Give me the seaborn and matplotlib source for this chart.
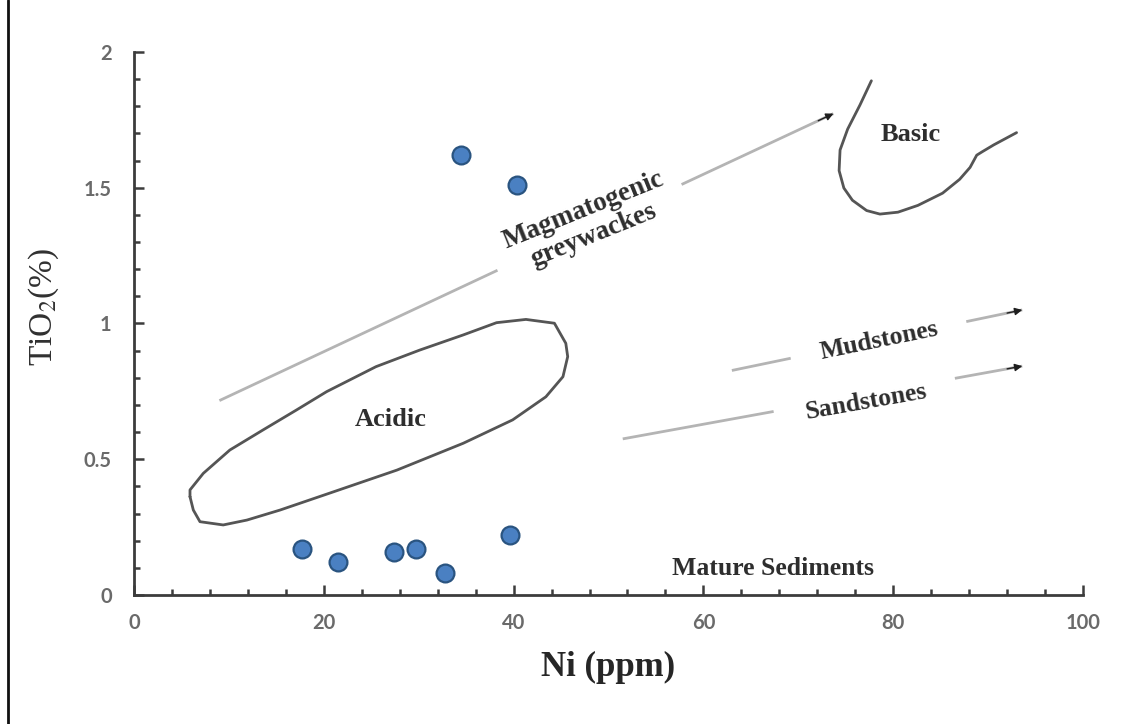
import matplotlib
matplotlib.use("Agg")
import matplotlib.pyplot as plt
from matplotlib.lines import Line2D
from matplotlib.ticker import MultipleLocator
import seaborn as sns
import pandas as pd

# Sample compositions
ni_ppm = [34.5, 40.4, 17.7, 21.5, 27.4, 29.7, 32.8, 39.6]
tio2_pct = [1.62, 1.51, 0.17, 0.12, 0.16, 0.17, 0.08, 0.22]

# Acidic field outline (closed)
acidic_ni = [5.9, 6.25, 6.95, 9.4, 11.9, 15.4, 20.6, 27.7, 34.7, 39.9, 43.4, 45.2,
             45.7, 45.5, 44.3, 41.3, 38.2, 34.7, 30.1, 25.5, 20.3, 17.1, 13.6,
             10.1, 7.3, 5.9, 5.9]
acidic_tio2 = [0.362, 0.313, 0.270, 0.258, 0.276, 0.313, 0.375, 0.460, 0.559, 0.645,
               0.730, 0.804, 0.878, 0.927, 1.001, 1.015, 1.003, 0.958, 0.902, 0.841,
               0.749, 0.681, 0.608, 0.534, 0.448, 0.387, 0.362]

# Basic field boundary (open curve)
basic_ni = [77.7, 76.5, 75.2, 74.4, 74.3, 74.8, 75.7, 77.2, 78.6, 80.5, 82.6, 85.2,
            87.0, 88.1, 88.8, 89.4, 90.6, 93.0]
basic_tio2 = [1.894, 1.805, 1.716, 1.639, 1.563, 1.499, 1.454, 1.416, 1.403, 1.410,
              1.435, 1.480, 1.531, 1.575, 1.620, 1.633, 1.658, 1.703]

# Trend arrows: start, gap start, gap end, tip
magma_ni = [9.0, 38.3, 57.7, 73.7]
magma_tio2 = [0.716, 1.196, 1.512, 1.773]
mud_ni = [63.0, 69.2, 87.7, 93.6]
mud_tio2 = [0.827, 0.872, 1.007, 1.050]
sand_ni = [51.5, 67.4, 86.5, 93.6]
sand_tio2 = [0.575, 0.676, 0.798, 0.843]

x_ticks = [0, 20, 40, 60, 80, 100]
x_tick_labels = ["0", "20", "40", "60", "80", "100"]
y_ticks = [0, 0.5, 1, 1.5, 2]
y_tick_labels = ["0", "0.5", "1", "1.5", "2"]

sns.set_theme(style="white")
plt.rcParams["font.family"] = ["Liberation Serif", "DejaVu Serif"]
plt.rcParams["mathtext.fontset"] = "stix"

fig = plt.figure(figsize=(11.21, 7.24), dpi=100)
ax = fig.add_axes([0.11954, 0.17818, 0.84657, 0.75])

df = pd.DataFrame({"Ni": ni_ppm, "TiO2": tio2_pct})
sns.scatterplot(data=df, x="Ni", y="TiO2", ax=ax, s=165, color="#4a80c2",
                edgecolor="#2a5480", linewidth=1.6, zorder=5, legend=False)

axis_col = "#3c3c3c"
ax.plot(acidic_ni, acidic_tio2, color="#555555", lw=2.0, solid_joinstyle="round")
ax.plot(basic_ni, basic_tio2, color="#555555", lw=2.0, solid_joinstyle="round")

line_col = "#b4b4b4"
for xs, ys in [(magma_ni, magma_tio2), (mud_ni, mud_tio2), (sand_ni, sand_tio2)]:
    ax.plot(xs[0:2], ys[0:2], color=line_col, lw=2.0, solid_capstyle="butt")
    ax.plot(xs[2:4], ys[2:4], color=line_col, lw=2.0, solid_capstyle="butt")
    slope = (ys[3] - ys[2]) / (xs[3] - xs[2])
    ax.annotate("", xy=(xs[3], ys[3]), xytext=(xs[3] - 1.6, ys[3] - 1.6 * slope),
                arrowprops=dict(arrowstyle="-|>", color="#1e1e1e", lw=1.0,
                                mutation_scale=11, shrinkA=0, shrinkB=0))

txt = dict(color="#2e2e2e", fontweight="bold", ha="center", va="center")
ax.text(47.9, 1.372, "Magmatogenic\ngreywackes", rotation=22, fontsize=19.5,
        linespacing=1.12, **txt)
ax.text(81.8, 1.697, "Basic", fontsize=19, **txt)
ax.text(27.1, 0.645, "Acidic", fontsize=19, **txt)
ax.text(78.5, 0.936, "Mudstones", rotation=11.5, fontsize=18.5, **txt)
ax.text(77.2, 0.713, "Sandstones", rotation=10, fontsize=18.5, **txt)
ax.text(67.3, 0.097, "Mature Sediments", fontsize=18.5, **txt)

ax.set_xlim(0, 100)
ax.set_ylim(0, 2)
ax.set_xticks(x_ticks)
ax.set_xticklabels(x_tick_labels)
ax.set_yticks(y_ticks)
ax.set_yticklabels(y_tick_labels)
ax.xaxis.set_minor_locator(MultipleLocator(4))
ax.yaxis.set_minor_locator(MultipleLocator(0.1))

for side in ["top", "right"]:
    ax.spines[side].set_visible(False)
for side in ["left", "bottom"]:
    ax.spines[side].set_color(axis_col)
    ax.spines[side].set_linewidth(2.0)

ax.tick_params(which="both", direction="in", color=axis_col, width=1.8)
ax.tick_params(which="major", length=7)
ax.tick_params(which="minor", length=4.5)
ax.tick_params(axis="x", which="major", pad=13, bottom=True)
ax.tick_params(axis="y", which="major", pad=16, left=True)
ax.tick_params(axis="x", which="minor", bottom=True)
ax.tick_params(axis="y", which="minor", left=True)
for lab in ax.get_xticklabels() + ax.get_yticklabels():
    lab.set_family(["Lato", "DejaVu Sans"])
    lab.set_fontsize(14.5)
    lab.set_fontweight("bold")
    lab.set_color("#6a6a6a")

ax.set_xlabel("Ni (ppm)", fontsize=25, fontweight="bold", color="#262626")
ax.xaxis.label.set_va("center")
ax.xaxis.set_label_coords(0.5, -0.1326)
ax.set_ylabel(r"TiO$_2$(%)", fontsize=24, color="#303030")
ax.yaxis.label.set_va("center")
ax.yaxis.set_label_coords(-0.0948, 0.530)

# left border rule of the figure panel
fig.add_artist(Line2D([8 / 1121, 8 / 1121], [0, 1], color="#111111", lw=2.0,
                      transform=fig.transFigure))

fig.savefig("out.png", dpi=100, facecolor="white")
